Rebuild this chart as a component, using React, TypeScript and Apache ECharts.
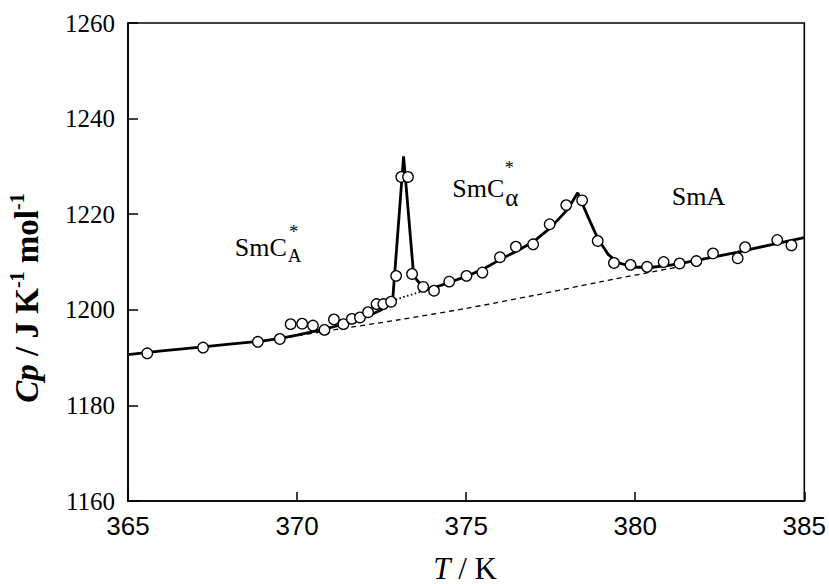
import React, { useEffect, useRef } from "react";
import * as echarts from "echarts";

// Measured heat capacity points (T / K, Cp / J K-1 mol-1)
const tempK = [
  365.57, 367.22, 368.84, 369.49, 369.81, 370.15, 370.47, 370.81, 371.09, 371.37,
  371.62, 371.86, 372.1, 372.35, 372.55, 372.78, 372.93, 373.08, 373.28, 373.4,
  373.73, 374.05, 374.5, 375.01, 375.48, 376.0, 376.47, 376.98, 377.47, 377.96,
  378.43, 378.89, 379.37, 379.86, 380.35, 380.84, 381.31, 381.81, 382.3, 383.03,
  383.25, 384.2, 384.62,
];
const cpValues = [
  1190.9, 1192.1, 1193.3, 1193.9, 1197.0, 1197.1, 1196.7, 1195.8, 1198.0, 1197.0,
  1198.1, 1198.4, 1199.5, 1201.2, 1201.2, 1201.7, 1207.1, 1227.8, 1227.8, 1207.5,
  1204.8, 1204.0, 1205.9, 1207.1, 1207.8, 1211.0, 1213.2, 1213.7, 1217.9, 1221.9,
  1222.9, 1214.4, 1209.8, 1209.4, 1209.0, 1210.0, 1209.7, 1210.2, 1211.8, 1210.8,
  1213.1, 1214.6, 1213.5,
];

// Smoothed solid curve through the data
const fitT = [
  365.0, 366.0, 367.0, 368.0, 369.0, 369.5, 370.0, 370.5, 371.0, 371.5, 372.0, 372.5,
  372.83, 373.15, 373.45, 373.66, 373.9, 374.5, 375.0, 375.5, 376.0, 376.5, 377.0,
  377.5, 378.0, 378.3, 378.6, 378.9, 379.2, 379.5, 380.0, 380.5, 381.0, 381.5, 382.0,
  383.0, 384.0, 385.0,
];
const fitCp = [
  1190.6, 1191.4, 1192.1, 1192.8, 1193.5, 1194.0, 1194.7, 1195.5, 1196.3, 1197.2, 1198.4, 1200.0,
  1202.3, 1232.1, 1207.0, 1205.3, 1204.3, 1205.7, 1207.0, 1208.5, 1210.5, 1212.3, 1214.3,
  1217.2, 1221.0, 1224.5, 1219.5, 1214.8, 1211.6, 1209.8, 1208.9, 1208.9, 1209.3, 1209.9, 1210.6,
  1212.0, 1213.6, 1215.1,
];

// Dashed baseline (normal heat capacity)
const baseT = [369.5, 371.0, 373.0, 375.0, 377.0, 379.0, 381.3];
const baseCp = [1194.0, 1195.7, 1197.9, 1200.3, 1203.0, 1205.9, 1209.0];

// Dotted continuation beneath the sharp peak
const dotT = [372.8, 373.3, 373.9];
const dotCp = [1201.9, 1203.0, 1204.3];

// Phase labels anchored in data coordinates (left edge, cap middle)
const phaseT = [368.16, 374.59, 381.08];
const phaseCp = [1213.1, 1225.35, 1223.7];

const xTicks = { min: 365, max: 385, interval: 5 };
const yTicks = { min: 1160, max: 1260, interval: 20 };

const SERIF = '"Liberation Serif", "Times New Roman", serif';
const SANS = '"Liberation Sans", Arial, sans-serif';

const zip = (a: number[], b: number[]) => a.map((v, i) => [v, b[i]]);

export default function App() {
  const ref = useRef<HTMLDivElement>(null);
  useEffect(() => {
    if (!ref.current) return;
    const chart = echarts.init(ref.current, undefined, { renderer: "svg" });
    chart.setOption({
      animation: false,
      backgroundColor: "#fff",
      grid: {
        left: 128, right: 22, top: 23, bottom: 83,
        show: true, borderColor: "#000", borderWidth: 1.6, backgroundColor: "transparent",
      },
      xAxis: {
        type: "value", ...xTicks,
        axisLine: { show: true, lineStyle: { color: "#000", width: 1.6 } },
        axisTick: { show: true, inside: true, length: 9, lineStyle: { color: "#000", width: 1.5 } },
        axisLabel: { color: "#000", fontFamily: SANS, fontSize: 26, margin: 12, formatter: (v: number) => String(v) },
        splitLine: { show: false },
      },
      yAxis: {
        type: "value", ...yTicks,
        axisLine: { show: true, lineStyle: { color: "#000", width: 1.6 } },
        axisTick: { show: true, inside: true, length: 10, lineStyle: { color: "#000", width: 1.5 } },
        axisLabel: { color: "#000", fontFamily: SERIF, fontSize: 25, margin: 13, formatter: (v: number) => String(v) },
        splitLine: { show: false },
      },
      series: [
        {
          type: "line", data: zip(baseT, baseCp), showSymbol: false, smooth: 0.3,
          lineStyle: { color: "#000", width: 1.3, type: [5, 4] }, z: 2,
        },
        {
          type: "line", data: zip(dotT, dotCp), showSymbol: false,
          lineStyle: { color: "#000", width: 1.8, type: [1.5, 2.5] }, z: 2,
        },
        {
          type: "line", data: zip(fitT, fitCp), showSymbol: false,
          lineStyle: { color: "#000", width: 2.8 }, z: 3,
        },
        {
          type: "scatter", data: zip(tempK, cpValues), symbol: "circle", symbolSize: 10.5,
          itemStyle: { color: "#fff", borderColor: "#000", borderWidth: 1.3, opacity: 1 }, z: 5,
        },
      ],
    });

    const p = phaseT.map((t, i) => chart.convertToPixel({ gridIndex: 0 }, [t, phaseCp[i]]) as number[]);
    const txt = (text: string, x: number, y: number, size: number, align = "left") => ({
      type: "text", x, y,
      style: { text, fontFamily: SERIF, fontSize: size, lineHeight: size, fill: "#000", align, verticalAlign: "middle" },
    });
    chart.setOption({
      graphic: [
        {
          type: "group", x: p[0][0], y: p[0][1],
          children: [txt("SmC", 0, 0, 26), txt("*", 59, -15, 18, "center"), txt("A", 53, 8, 19)],
        },
        {
          type: "group", x: p[1][0], y: p[1][1],
          children: [txt("SmC", 0, 0, 26), txt("*", 57, -21, 18, "center"), txt("α", 53, 9, 25)],
        },
        { type: "group", x: p[2][0], y: p[2][1], children: [txt("SmA", 0, 0, 26)] },
        {
          type: "text", x: 465, y: 568,
          style: {
            text: "{i|T}{n| / K}", align: "center", verticalAlign: "middle", fill: "#000",
            rich: {
              i: { fontFamily: SERIF, fontSize: 31, lineHeight: 30, fontStyle: "italic", fill: "#000" },
              n: { fontFamily: SERIF, fontSize: 31, lineHeight: 30, fill: "#000" },
            },
          },
        },
        {
          type: "text", x: 27, y: 298, rotation: Math.PI / 2,
          style: {
            text: "{i|Cp}{n| / J K}{s|-1}{n| mol}{s|-1}", align: "center", verticalAlign: "middle", fill: "#000",
            rich: {
              i: { fontFamily: SERIF, fontSize: 33, fontStyle: "italic", fontWeight: "bold", lineHeight: 40, fill: "#000", verticalAlign: "middle" },
              n: { fontFamily: SERIF, fontSize: 33, fontWeight: "bold", lineHeight: 40, fill: "#000", verticalAlign: "middle" },
              s: { fontFamily: SERIF, fontSize: 20, fontWeight: "bold", lineHeight: 20, fill: "#000", verticalAlign: "top" },
            },
          },
        },
      ],
    });
    return () => chart.dispose();
  }, []);
  return (
    <div
      ref={ref}
      style={{ position: "fixed", left: 0, top: 0, width: 829, height: 584, background: "#fff" }}
    />
  );
}
